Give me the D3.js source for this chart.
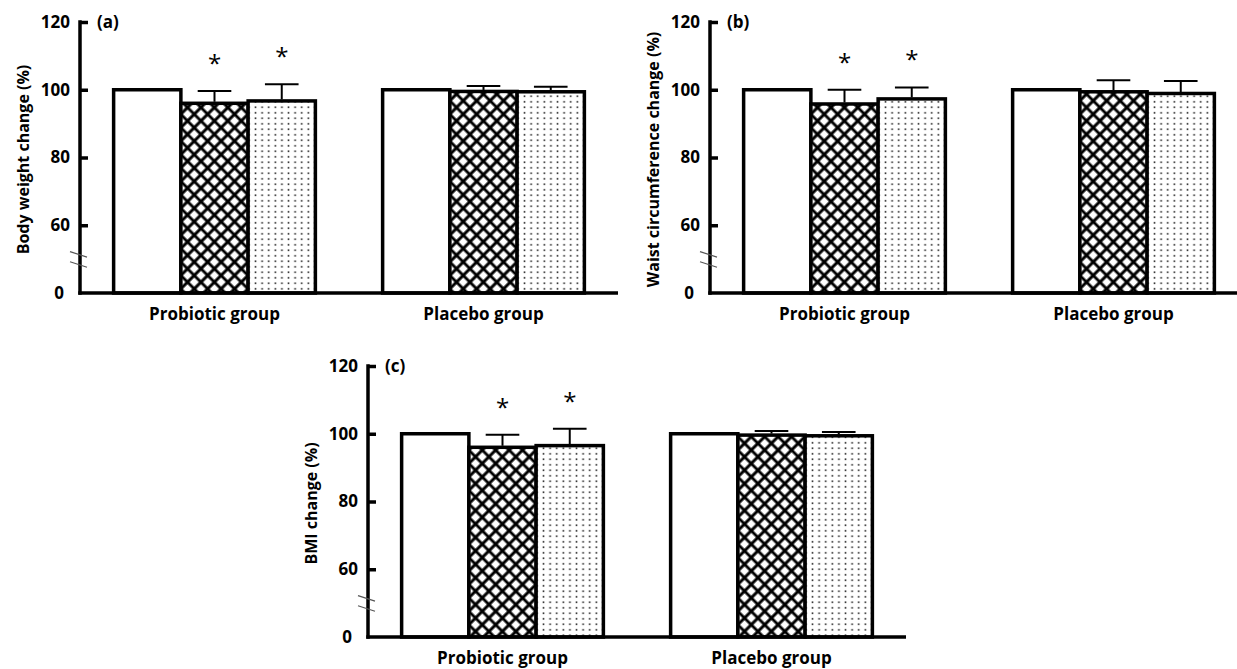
<!DOCTYPE html>
<html>
<head>
<meta charset="utf-8">
<script src="https://cdn.jsdelivr.net/npm/d3@7"></script>
<style>
  body { margin: 0; background: #fff; }
  svg { display: block; }
  text { font-family: "Open Sans", "Liberation Sans", sans-serif; fill: #000; }
</style>
</head>
<body>
<script>
"use strict";
(function(){
    // data
    const groups = ["Probiotic group", "Placebo group"]
    const timepoints = ["t0", "t1", "t2"]
    const yTicks = [0, 60, 80, 100, 120]

    const bodyWeight = [[100, 96.0, 96.7], [100, 99.5, 99.4]]
    const bodyWeightErr = [[0, 3.6, 4.9], [0, 1.6, 1.5]]
    const waist = [[100, 95.8, 97.3], [100, 99.4, 98.9]]
    const waistErr = [[0, 4.2, 3.4], [0, 3.4, 3.7]]
    const bmi = [[100, 96.0, 96.5], [100, 99.6, 99.4]]
    const bmiErr = [[0, 3.7, 5.0], [0, 1.2, 1.1]]
    // asterisks: significant vs baseline
    const bodyWeightSig = [[false, true, true], [false, false, false]]
    const waistSig = [[false, true, true], [false, false, false]]
    const bmiSig = [[false, true, true], [false, false, false]]

    const width = 1237, height = 669
    const svg = d3.select("body").append("svg")
        .attr("width", width)
        .attr("height", height)

    // fill patterns
    const defs = svg.append("defs")
    const cs = 9.5
    defs.append("pattern")
        .attr("id", "cross")
        .attr("patternUnits", "userSpaceOnUse")
        .attr("width", cs)
        .attr("height", cs)
        .attr("patternTransform", "rotate(45)")
        .call(p => {
            p.append("rect").attr("width", cs).attr("height", cs).attr("fill", "#fff")
            p.append("path").attr("d", `M0,${cs / 2}H${cs}M${cs / 2},0V${cs}`)
                .attr("stroke", "#000").attr("stroke-width", 3)
        })
    defs.append("pattern")
        .attr("id", "dots")
        .attr("patternUnits", "userSpaceOnUse")
        .attr("width", 6.6)
        .attr("height", 5.5)
        .call(p => {
            p.append("rect").attr("width", 6.6).attr("height", 5.5).attr("fill", "#fff")
            p.append("rect").attr("x", 2.5).attr("y", 2).attr("width", 1.6).attr("height", 1.6).attr("fill", "#222")
        })
    const fills = ["#fff", "url(#cross)", "url(#dots)"]

    drawPanel({x0: 80, y0: 293, label: "(a)", title: "Body weight change (%)",
        values: bodyWeight, errors: bodyWeightErr, sig: bodyWeightSig})
    drawPanel({x0: 710, y0: 293, label: "(b)", title: "Waist circumference change (%)",
        values: waist, errors: waistErr, sig: waistSig})
    drawPanel({x0: 368, y0: 637, label: "(c)", title: "BMI change (%)",
        values: bmi, errors: bmiErr, sig: bmiSig})

    function drawPanel(p) {
        const w = 538, h = 271
        const g = svg.append("g")

        // broken axis: 0 sits one tick step below 60
        let scaleY = d3.scaleLinear()
            .domain([0, 60, 120])
            .range([p.y0, p.y0 - h * 0.25, p.y0 - h])
        let scaleX = d3.scaleBand()
            .domain(groups)
            .range([p.x0, p.x0 + w])
            .paddingInner(0.25)
            .paddingOuter(0.125)
        let scaleSub = d3.scaleBand()
            .domain(timepoints)
            .range([0, scaleX.bandwidth()])

        // bars
        groups.forEach((grp, gi) => {
            const bars = g.append("g")
                .attr("transform", `translate(${scaleX(grp)},0)`)
            timepoints.forEach((t, ti) => {
                const v = p.values[gi][ti]
                const e = p.errors[gi][ti]
                const cx = scaleSub(t) + scaleSub.bandwidth() / 2
                bars.append("rect")
                    .attr("x", scaleSub(t))
                    .attr("y", scaleY(v))
                    .attr("width", scaleSub.bandwidth())
                    .attr("height", scaleY(0) - scaleY(v))
                    .attr("fill", fills[ti])
                    .attr("stroke", "#000")
                    .attr("stroke-width", 3.5)
                if (e > 0) {
                    const capW = scaleSub.bandwidth() * 0.25
                    bars.append("line")
                        .attr("x1", cx).attr("x2", cx)
                        .attr("y1", scaleY(v) - 1.5).attr("y2", scaleY(v + e))
                        .attr("stroke", "#000").attr("stroke-width", 2)
                    bars.append("line")
                        .attr("x1", cx - capW).attr("x2", cx + capW)
                        .attr("y1", scaleY(v + e)).attr("y2", scaleY(v + e))
                        .attr("stroke", "#000").attr("stroke-width", 2)
                }
                if (p.sig[gi][ti]) {
                    bars.append("text")
                        .attr("x", cx)
                        .attr("y", scaleY(v + e) - 19)
                        .attr("text-anchor", "middle")
                        .attr("font-size", "24px")
                        .text("*")
                }
            })
        })

        // y axis, ticks pointing inward
        let yAxis = d3.axisLeft()
            .scale(scaleY)
            .tickValues(yTicks)
            .tickSize(-8)
            .tickPadding(10)
            .tickFormat(d3.format("d"))
        const ya = g.append("g")
            .attr("transform", `translate(${p.x0},0)`)
            .call(yAxis)
        ya.select(".domain").remove()
        ya.selectAll(".tick line").attr("stroke", "#000").attr("stroke-width", 3.5)
        ya.selectAll(".tick text")
            .attr("font-size", "17px")
            .attr("font-weight", "bold")
            .attr("font-family", null)
        ya.selectAll(".tick").filter(d => d === 0).select("line").remove()
        ya.selectAll(".tick").filter(d => d === 0).select("text").attr("x", -16)

        g.append("line")
            .attr("x1", p.x0).attr("x2", p.x0)
            .attr("y1", scaleY(120) - 1.75).attr("y2", scaleY(0) + 1.75)
            .attr("stroke", "#000").attr("stroke-width", 3.5)
        // x axis
        g.append("line")
            .attr("x1", p.x0 - 1.75).attr("x2", p.x0 + w)
            .attr("y1", scaleY(0)).attr("y2", scaleY(0))
            .attr("stroke", "#000").attr("stroke-width", 3.5)

        // axis break marks
        ;[34, 25].forEach(b => {
            g.append("line")
                .attr("x1", p.x0 - 10).attr("x2", p.x0 + 7)
                .attr("y1", scaleY(b) - 3).attr("y2", scaleY(b) + 2.5)
                .attr("stroke", "#555").attr("stroke-width", 1.1)
        })

        // category labels
        g.selectAll(".cat")
            .data(groups)
            .enter()
            .append("text")
                .attr("x", d => scaleX(d) + scaleX.bandwidth() / 2)
                .attr("y", scaleY(0) + 27)
                .attr("text-anchor", "middle")
                .attr("font-size", "17px")
                .attr("font-weight", "bold")
                .text(d => d)

        // panel letter
        g.append("text")
            .attr("x", p.x0 + 17)
            .attr("y", scaleY(120))
            .attr("dy", "0.35em")
            .attr("font-size", "17px")
            .attr("font-weight", "bold")
            .text(p.label)

        // y title
        g.append("text")
            .attr("transform", `translate(${p.x0 - 57},${(scaleY(0) + scaleY(120)) / 2 + 2}) rotate(-90)`)
            .attr("dy", "0.35em")
            .attr("text-anchor", "middle")
            .attr("font-size", "16px")
            .attr("font-weight", "bold")
            .text(p.title)
    }
})()
</script>
</body>
</html>
